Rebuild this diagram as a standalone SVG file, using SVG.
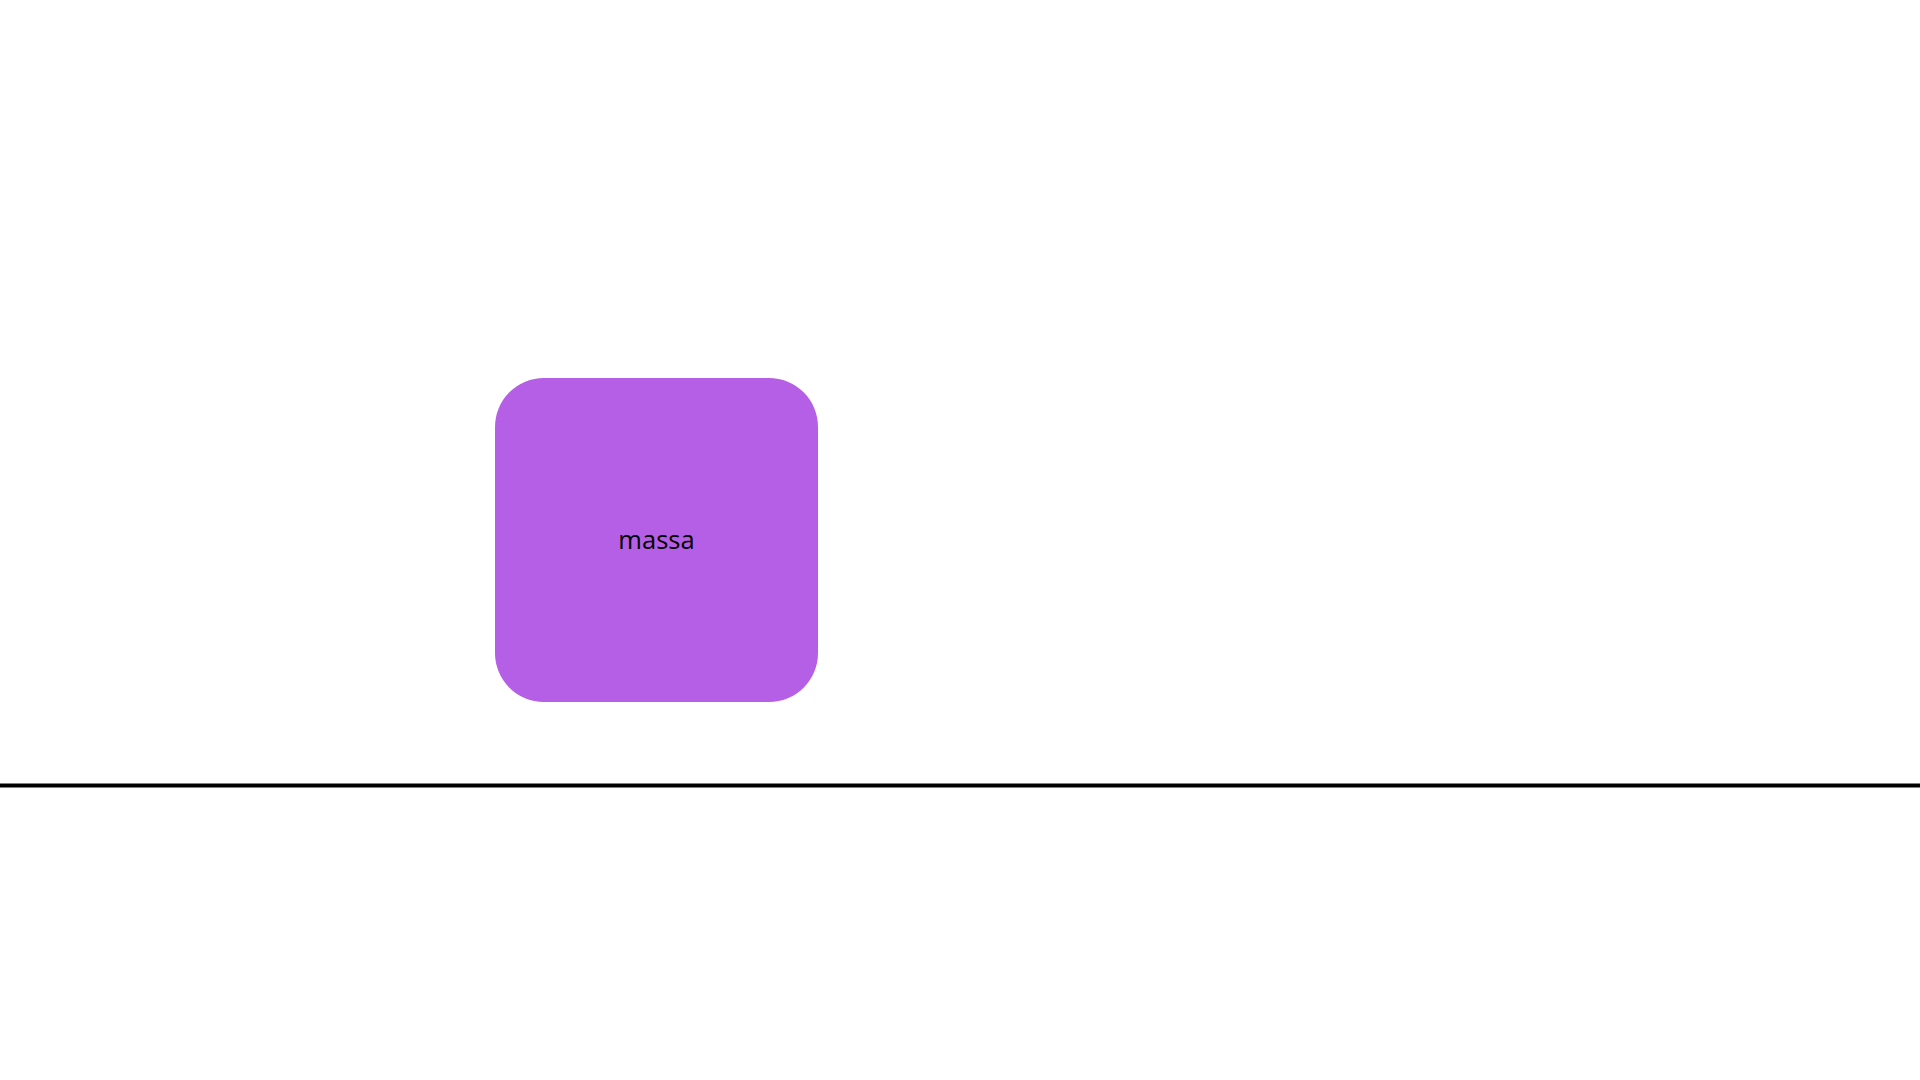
<svg xmlns="http://www.w3.org/2000/svg" width="1920" height="1080" viewBox="0 0 1920 1080">
<style>
.node{fill:#b45fe5;}
.label{font-family:"Open Sans",sans-serif;font-size:25.5px;fill:#000;text-anchor:middle;dominant-baseline:central;}
.ground{stroke:#000;stroke-width:4;fill:none;}
</style>
<rect width="1920" height="1080" fill="#fff"/>
<g id="connectors">
<line class="ground" x1="0" y1="785.5" x2="1920" y2="785.5"/>
</g>
<g id="massa">
<rect class="node" x="495" y="378" width="323" height="324" rx="49" ry="49"/>
<text class="label" x="656.5" y="539">massa</text>
</g>
</svg>
